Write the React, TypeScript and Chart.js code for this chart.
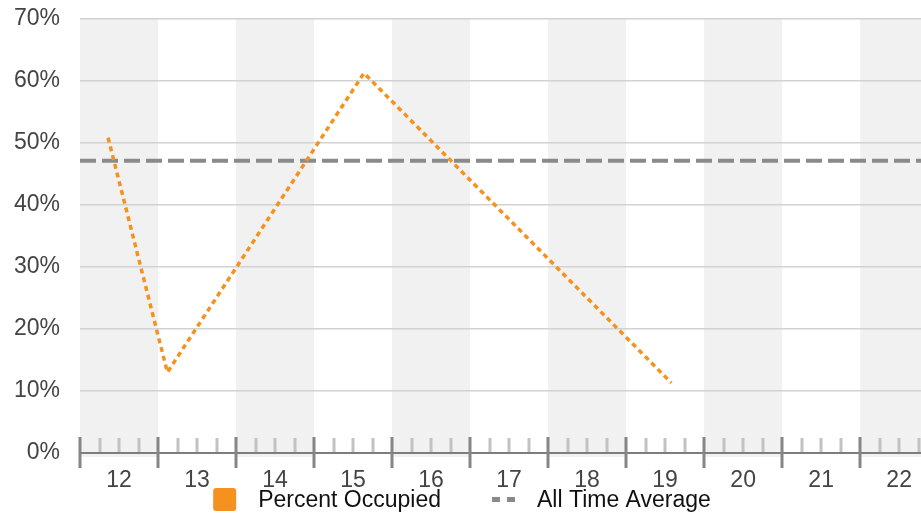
import React, { useEffect, useRef } from "react";
import { Chart, registerables } from "chart.js";

Chart.register(...registerables);

// ---- data ----
const dayLabels = [12, 13, 14, 15, 16, 17, 18, 19, 20, 21, 22];
const occupiedX = [12.36, 13.12, 15.64, 19.58];
const occupiedY = [50.8, 13.0, 61.2, 11.3];
const allTimeAverage = 47.1;
const xMin = 12;
const xMax = 22.78;
const yTicksPct = [0, 10, 20, 30, 40, 50, 60, 70];

const FONT = '"Liberation Sans", Arial, Helvetica, sans-serif';
const ORANGE = "#f5921f";
const GREY = "#8a8a8a";

const bandsAndAxisPlugin = {
  id: "bandsAndAxis",
  beforeDraw(chart: any) {
    const { ctx, chartArea, scales } = chart;
    const x = scales.x;
    ctx.save();
    ctx.fillStyle = "#f1f1f1";
    dayLabels.forEach((d, i) => {
      if (i % 2 !== 0) return;
      const x0 = x.getPixelForValue(d);
      const x1 = Math.min(x.getPixelForValue(d + 1), chartArea.right);
      ctx.fillRect(x0, chartArea.top, x1 - x0, chartArea.bottom - chartArea.top + 4);
    });
    ctx.restore();
  },
  afterDraw(chart: any) {
    const { ctx, chartArea, scales } = chart;
    const x = scales.x;
    const yb = chartArea.bottom;
    ctx.save();
    // minor ticks (quarters)
    ctx.fillStyle = "#c2c2c2";
    dayLabels.forEach((d) => {
      [0.25, 0.5, 0.75].forEach((q) => {
        const px = x.getPixelForValue(d + q);
        if (px > chartArea.right) return;
        ctx.fillRect(Math.round(px) - 1.5, yb - 15, 3, 15);
      });
    });
    // axis line
    ctx.fillStyle = "#7d7d7d";
    ctx.fillRect(chartArea.left, yb - 1, chartArea.right - chartArea.left, 2);
    // major ticks
    ctx.fillStyle = "#868686";
    dayLabels.forEach((d) => {
      const px = x.getPixelForValue(d);
      if (px > chartArea.right) return;
      ctx.fillRect(Math.round(px) - 1.5, yb - 16, 3, 31);
    });

    // legend
    const items = ["Percent Occupied", "All Time Average"];
    ctx.font = `23px ${FONT}`;
    const w1 = ctx.measureText(items[0]).width;
    const w2 = ctx.measureText(items[1]).width;
    const total = 23 + 22 + w1 + 51 + 23 + 22 + w2;
    let sx = 462 - total / 2;
    const cy = 499.5;
    ctx.fillStyle = ORANGE;
    ctx.beginPath();
    (ctx as any).roundRect(sx, cy - 11.5, 23, 23, 3);
    ctx.fill();
    ctx.fillStyle = "#111";
    ctx.textBaseline = "middle";
    ctx.textAlign = "left";
    ctx.fillText(items[0], sx + 45, cy + 1);
    sx = sx + 45 + w1 + 51;
    ctx.fillStyle = GREY;
    ctx.fillRect(sx, cy - 2.5, 8, 5);
    ctx.fillRect(sx + 15, cy - 2.5, 8, 5);
    ctx.fillStyle = "#111";
    ctx.fillText(items[1], sx + 45, cy + 1);
    ctx.restore();
  },
};

export default function App() {
  const ref = useRef<HTMLCanvasElement>(null);
  useEffect(() => {
    if (!ref.current) return;
    const chart = new Chart(ref.current, {
      type: "line",
      data: {
        datasets: [
          {
            label: "Percent Occupied",
            data: occupiedX.map((v, i) => ({ x: v, y: occupiedY[i] })),
            borderColor: ORANGE,
            borderWidth: 3.5,
            borderDash: [5, 4],
            pointRadius: 0,
            tension: 0,
            order: 0,
          },
          {
            label: "All Time Average",
            data: [
              { x: xMin, y: allTimeAverage },
              { x: xMax, y: allTimeAverage },
            ],
            borderColor: GREY,
            borderWidth: 4,
            borderDash: [16, 6],
            pointRadius: 0,
            order: 1,
          },
        ],
      },
      options: {
        responsive: false,
        animation: false,
        devicePixelRatio: 1,
        layout: { padding: { top: 18.5, right: 0, left: 0, bottom: 0 } },
        plugins: { legend: { display: false }, tooltip: { enabled: false } },
        scales: {
          x: {
            type: "linear",
            min: xMin,
            max: xMax,
            grid: { display: false },
            border: { display: false },
            afterBuildTicks: (s: any) => {
              s.ticks = dayLabels.map((d) => ({ value: d + 0.5 }));
            },
            afterFit: (s: any) => {
              s.height = 63;
              s.paddingLeft = 0;
              s.paddingRight = 0;
            },
            ticks: {
              autoSkip: false,
              maxRotation: 0,
              padding: 6,
              color: "#444",
              font: { family: FONT, size: 23 },
              callback: (v: any) => String(Math.floor(Number(v))),
            },
          },
          y: {
            min: 0,
            max: 70,
            afterBuildTicks: (s: any) => {
              s.ticks = yTicksPct.map((v) => ({ value: v }));
            },
            afterFit: (s: any) => {
              s.width = 80;
              s.paddingTop = 0;
              s.paddingBottom = 0;
            },
            grid: { color: "#d2d2d2", lineWidth: 1.5, drawTicks: false },
            border: { display: false },
            ticks: {
              padding: 20,
              color: "#444",
              font: { family: FONT, size: 23 },
              callback: (v: any) => `${v}%`,
            },
          },
        },
      },
      plugins: [bandsAndAxisPlugin],
    });
    return () => chart.destroy();
  }, []);
  return (
    <div style={{ position: "absolute", left: 0, top: 0, width: 921, height: 516, background: "#fff" }}>
      <canvas ref={ref} width={921} height={516} />
    </div>
  );
}
